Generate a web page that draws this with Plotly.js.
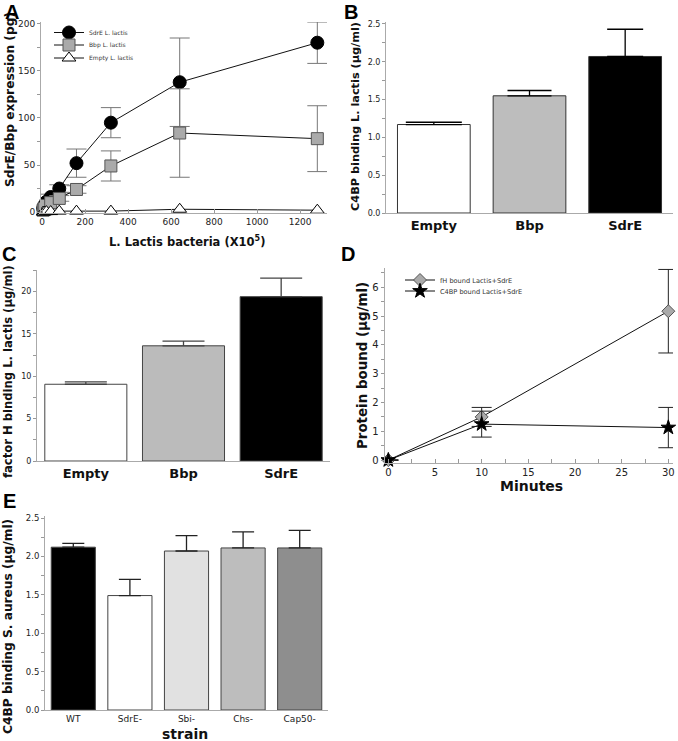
<!DOCTYPE html>
<html><head><meta charset="utf-8">
<script src="https://cdn.plot.ly/plotly-3.0.1.min.js"></script>
<style>body{margin:0;background:#fff}#chart{width:678px;height:741px}</style>
</head><body><div id="chart"></div>
<script>
// ---------- Panel A ----------
const aCells = [5, 10, 20, 40, 80, 160, 320, 640, 1280];
const aSdrE = [4, 7, 11, 16, 25, 52, 95, 138, 180];
const aSdrEErr = [1, 1, 2, 3, 4, 15, 16, 47, 22];
const aBbp = [2, 4, 7, 10, 14.5, 24, 49, 84, 78];
const aBbpErr = [1, 1, 1, 2, 3, 4, 16, 47, 35];
const aEmpty = [0, 0, 0.5, 0.5, 1, 1, 1, 3, 2];
const aNames = ['SdrE L. lactis', 'Bbp L. lactis', 'Empty L. lactis'];
// ---------- Panel B ----------
const bCats = ['Empty', 'Bbp', 'SdrE'];
const bVals = [1.17, 1.55, 2.07];
const bErr = [0.03, 0.07, 0.36];
// ---------- Panel C ----------
const cCats = ['Empty', 'Bbp', 'SdrE'];
const cVals = [9.06, 13.6, 19.4];
const cErr = [0.27, 0.55, 2.2];
// ---------- Panel D ----------
const dMinutes = [0, 10, 30];
const dFH = [0, 1.5, 5.17];
const dFHErr = [0, 0.33, 1.45];
const dC4BP = [0, 1.25, 1.13];
const dC4BPErr = [0, 0.45, 0.7];
const dNames = ['fH bound Lactis+SdrE', 'C4BP bound Lactis+SdrE'];
// ---------- Panel E ----------
const eCats = ['WT', 'SdrE-', 'Sbi-', 'Chs-', 'Cap50-'];
const eVals = [2.12, 1.49, 2.07, 2.11, 2.11];
const eErr = [0.05, 0.21, 0.2, 0.21, 0.23];

// styles
const bColors = ['#ffffff', '#bdbdbd', '#000000'];
const bCapW = [28, 22, 18];
const cColors = ['#ffffff', '#bbbbbb', '#000000'];
const eColors = ['#000000', '#ffffff', '#e1e1e1', '#bdbdbd', '#8e8e8e'];

const W = 678, H = 741;
const px = v => v / W;
const py = v => 1 - v / H;

const traces = [];
// Panel A lines
traces.push({
  x: aCells, y: aSdrE, name: aNames[0], type: 'scatter', mode: 'lines+markers',
  xaxis: 'x', yaxis: 'y', legend: 'legend', cliponaxis: false,
  line: {color: '#111', width: 1},
  marker: {symbol: 'circle', size: 13, color: '#000', line: {color: '#000', width: 1}},
  error_y: {type: 'data', array: aSdrEErr, color: '#777', thickness: 1, width: 10}
});
traces.push({
  x: aCells, y: aBbp, name: aNames[1], type: 'scatter', mode: 'lines+markers',
  xaxis: 'x', yaxis: 'y', legend: 'legend2', cliponaxis: false,
  line: {color: '#111', width: 1},
  marker: {symbol: 'square', size: 12, color: '#aaaaaa', line: {color: '#555', width: 1}},
  error_y: {type: 'data', array: aBbpErr, color: '#777', thickness: 1, width: 10}
});
traces.push({
  x: aCells, y: aEmpty, name: aNames[2], type: 'scatter', mode: 'lines+markers',
  xaxis: 'x', yaxis: 'y', legend: 'legend3', cliponaxis: false,
  line: {color: '#111', width: 1},
  marker: {symbol: 'triangle-up', size: 12, color: '#fff', line: {color: '#000', width: 1}}
});
// Panel B bars
bCats.forEach((c, i) => traces.push({
  type: 'bar', x: [c], y: [bVals[i]], xaxis: 'x2', yaxis: 'y2', width: 0.76, showlegend: false,
  marker: {color: bColors[i], line: {color: '#333', width: 1}},
  error_y: {type: 'data', array: [bErr[i]], arrayminus: [0], symmetric: false, color: '#000', thickness: 1.3, width: bCapW[i]}
}));
// Panel C bars
cCats.forEach((c, i) => traces.push({
  type: 'bar', x: [c], y: [cVals[i]], xaxis: 'x3', yaxis: 'y3', width: 0.84, showlegend: false,
  marker: {color: cColors[i], line: {color: '#444', width: 1}},
  error_y: {type: 'data', array: [cErr[i]], arrayminus: [0], symmetric: false, color: '#444', thickness: 1.3, width: 21}
}));
// Panel D lines
traces.push({
  x: dMinutes, y: dFH, name: dNames[0], type: 'scatter', mode: 'lines+markers',
  xaxis: 'x4', yaxis: 'y4', legend: 'legend4', cliponaxis: false,
  line: {color: '#111', width: 1},
  marker: {symbol: 'diamond', size: 10, color: '#aaaaaa', line: {color: '#555', width: 1}},
  error_y: {type: 'data', array: dFHErr, color: '#222', thickness: 1, width: 10}
});
traces.push({
  x: dMinutes, y: dC4BP, name: dNames[1], type: 'scatter', mode: 'lines+markers',
  xaxis: 'x4', yaxis: 'y4', legend: 'legend5', cliponaxis: false,
  line: {color: '#111', width: 1},
  marker: {symbol: 'star', size: 11, color: '#000', line: {color: '#000', width: 1}},
  error_y: {type: 'data', array: dC4BPErr, color: '#222', thickness: 1, width: 10}
});
// Panel E bars
eCats.forEach((c, i) => traces.push({
  type: 'bar', x: [c], y: [eVals[i]], xaxis: 'x5', yaxis: 'y5', width: 0.78, showlegend: false,
  marker: {color: eColors[i], line: {color: '#444', width: 1}},
  error_y: {type: 'data', array: [eErr[i]], arrayminus: [0], symmetric: false, color: '#222', thickness: 1.3, width: 11}
}));

const tf = s => ({family: 'DejaVu Sans', size: s, color: '#222'});
const baseAx = {showline: true, linecolor: '#aaa', linewidth: 1, showgrid: false, zeroline: false,
  tickcolor: '#999', ticklen: 3, fixedrange: true};

const legendBase = {xanchor: 'left', yanchor: 'middle', bgcolor: 'rgba(0,0,0,0)', borderwidth: 0,
  itemwidth: 30, tracegroupgap: 0};

const layout = {
  width: W, height: H, margin: {l: 0, r: 0, t: 0, b: 0},
  paper_bgcolor: '#fff', plot_bgcolor: '#fff',
  font: {family: 'DejaVu Sans', color: '#222'},
  barmode: 'overlay',
  xaxis: Object.assign({}, baseAx, {domain: [px(41), px(327)], range: [-5, 1325], anchor: 'y',
    ticks: 'inside', ticklen: 4, dtick: 200, tick0: 0, tickfont: tf(9)}),
  yaxis: Object.assign({}, baseAx, {domain: [py(213), py(22)], range: [-1, 202], anchor: 'x',
    ticks: 'outside', dtick: 50, tickfont: tf(9),
    minor: {ticks: 'outside', dtick: 25, ticklen: 3, tickcolor: '#999'}}),
  xaxis2: Object.assign({}, baseAx, {domain: [px(386), px(673)], anchor: 'y2', type: 'category',
    range: [-0.5, 2.5], ticks: '', tickfont: {family: 'DejaVu Sans', size: 13, color: '#111', weight: 'bold'}}),
  yaxis2: Object.assign({}, baseAx, {domain: [py(213), py(22)], range: [0, 2.526], anchor: 'x2',
    ticks: 'outside', dtick: 0.5, tickformat: '.1f', tickfont: tf(8),
    minor: {ticks: 'outside', dtick: 0.25, ticklen: 3, tickcolor: '#999'}}),
  xaxis3: Object.assign({}, baseAx, {domain: [px(37), px(330)], anchor: 'y3', type: 'category',
    range: [-0.5, 2.5], ticks: '', tickfont: {family: 'DejaVu Sans', size: 13, color: '#111', weight: 'bold'}}),
  yaxis3: Object.assign({}, baseAx, {domain: [py(461), py(270)], range: [0, 22.55], anchor: 'x3',
    ticks: 'outside', dtick: 5, tickfont: tf(8),
    minor: {ticks: 'outside', dtick: 2.5, ticklen: 3, tickcolor: '#999'}}),
  xaxis4: Object.assign({}, baseAx, {domain: [px(384.6), px(673)], range: [-0.4, 30.5], anchor: 'y4',
    ticks: 'inside', ticklen: 4, dtick: 5, tickfont: tf(10),
    minor: {ticks: 'inside', dtick: 2.5, ticklen: 4, tickcolor: '#999'}}),
  yaxis4: Object.assign({}, baseAx, {domain: [py(463), py(268)], range: [-0.1, 6.67], anchor: 'x4',
    ticks: 'outside', dtick: 1, tickfont: tf(10),
    minor: {ticks: 'outside', dtick: 0.5, ticklen: 3, tickcolor: '#999'}}),
  xaxis5: Object.assign({}, baseAx, {domain: [px(45), px(328)], anchor: 'y5', type: 'category',
    range: [-0.5, 4.5], ticks: '', tickfont: tf(9)}),
  yaxis5: Object.assign({}, baseAx, {domain: [py(710), py(516)], range: [0, 2.526], anchor: 'x5',
    ticks: 'outside', dtick: 0.5, tickformat: '.1f', tickfont: tf(8.5),
    minor: {ticks: 'outside', dtick: 0.25, ticklen: 3, tickcolor: '#999'}}),
  legend: Object.assign({}, legendBase, {x: px(49), y: py(32.5), font: {family: 'DejaVu Sans', size: 6, color: '#333'}}),
  legend2: Object.assign({}, legendBase, {x: px(49), y: py(45), font: {family: 'DejaVu Sans', size: 6, color: '#333'}}),
  legend3: Object.assign({}, legendBase, {x: px(49), y: py(58), font: {family: 'DejaVu Sans', size: 6, color: '#333'}}),
  legend4: Object.assign({}, legendBase, {x: px(400), y: py(280), font: {family: 'DejaVu Sans', size: 6.6, color: '#333'}}),
  legend5: Object.assign({}, legendBase, {x: px(400), y: py(291), font: {family: 'DejaVu Sans', size: 6.6, color: '#333'}}),
  annotations: []
};

const ann = (text, x, y, size, angle) => ({text: text, x: px(x), y: py(y), xref: 'paper', yref: 'paper',
  showarrow: false, xanchor: 'center', yanchor: 'middle', textangle: angle || 0,
  font: {family: 'DejaVu Sans', size: size, color: '#111', weight: 'bold'}});
const lab = (text, x, y) => ({text: text, x: px(x), y: py(y), xref: 'paper', yref: 'paper',
  showarrow: false, xanchor: 'center', yanchor: 'middle',
  font: {family: 'Liberation Sans', size: 20, color: '#000', weight: 'bold'}});

layout.annotations.push(
  ann('SdrE/Bbp expression (pg)', 10, 100, 12.2, -90),
  ann('L. Lactis bacteria (X10<sup>5</sup>)', 187, 241, 11.5, 0),
  ann('C4BP binding L. lactis (\u03bcg/ml)', 355, 117, 11.3, -90),
  ann('factor H binding L. lactis (\u03bcg/ml)', 8, 372, 11.6, -90),
  ann('Protein bound (\u03bcg/ml)', 362, 366, 13.4, -90),
  ann('Minutes', 531, 486, 14, 0),
  ann('C4BP binding S. aureus (\u03bcg/ml)', 8, 627, 12.2, -90),
  ann('strain', 185, 734, 14, 0),
  lab('A', 12, 12), lab('B', 351, 12), lab('C', 9, 254), lab('D', 348, 254), lab('E', 9, 501)
);

Plotly.newPlot('chart', traces, layout, {displayModeBar: false, staticPlot: true});
</script>
</body></html>
